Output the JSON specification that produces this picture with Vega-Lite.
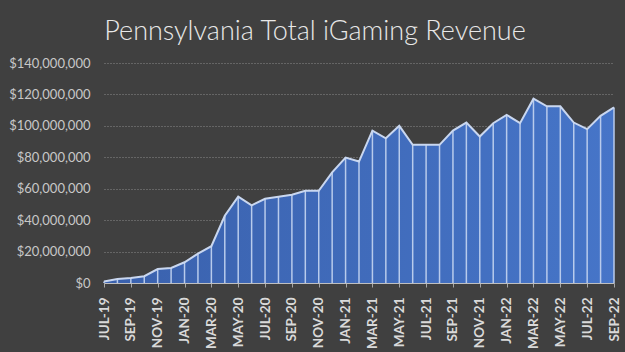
{
  "$schema": "https://vega.github.io/schema/vega-lite/v6.json",
  "width": 510,
  "height": 220,
  "autosize": {"type": "none"},
  "padding": {"left": 104, "top": 63, "right": 11, "bottom": 69},
  "background": "#404040",
  "title": {
    "text": "Pennsylvania Total iGaming Revenue",
    "font": "Lato",
    "fontWeight": 300,
    "fontSize": 27,
    "color": "#e8e8e8",
    "anchor": "middle",
    "dx": -44,
    "offset": 11
  },
  "config": {
    "view": {"stroke": null},
    "axis": {"labelFont": "Lato", "domain": false}
  },
  "data": {
    "values": [
      {"m": "JUL-19", "v": 900000},
      {"m": "AUG-19", "v": 2600000},
      {"m": "SEP-19", "v": 3200000},
      {"m": "OCT-19", "v": 4300000},
      {"m": "NOV-19", "v": 8900000},
      {"m": "DEC-19", "v": 9600000},
      {"m": "JAN-20", "v": 13200000},
      {"m": "FEB-20", "v": 18700000},
      {"m": "MAR-20", "v": 23400000},
      {"m": "APR-20", "v": 42800000},
      {"m": "MAY-20", "v": 54900000},
      {"m": "JUN-20", "v": 49400000},
      {"m": "JUL-20", "v": 53600000},
      {"m": "AUG-20", "v": 54900000},
      {"m": "SEP-20", "v": 56200000},
      {"m": "OCT-20", "v": 58700000},
      {"m": "NOV-20", "v": 58700000},
      {"m": "DEC-20", "v": 70400000},
      {"m": "JAN-21", "v": 79800000},
      {"m": "FEB-21", "v": 77300000},
      {"m": "MAR-21", "v": 97000000},
      {"m": "APR-21", "v": 92100000},
      {"m": "MAY-21", "v": 100000000},
      {"m": "JUN-21", "v": 87900000},
      {"m": "JUL-21", "v": 87900000},
      {"m": "AUG-21", "v": 87900000},
      {"m": "SEP-21", "v": 97000000},
      {"m": "OCT-21", "v": 102100000},
      {"m": "NOV-21", "v": 93200000},
      {"m": "DEC-21", "v": 101700000},
      {"m": "JAN-22", "v": 107000000},
      {"m": "FEB-22", "v": 101700000},
      {"m": "MAR-22", "v": 117300000},
      {"m": "APR-22", "v": 112400000},
      {"m": "MAY-22", "v": 112400000},
      {"m": "JUN-22", "v": 102100000},
      {"m": "JUL-22", "v": 97900000},
      {"m": "AUG-22", "v": 106400000},
      {"m": "SEP-22", "v": 111700000}
    ]
  },
  "encoding": {
    "x": {
      "field": "m",
      "type": "ordinal",
      "sort": null,
      "scale": {"type": "point", "padding": 0},
      "axis": {
        "title": null,
        "values": ["JUL-19","SEP-19","NOV-19","JAN-20","MAR-20","MAY-20","JUL-20","SEP-20","NOV-20","JAN-21","MAR-21","MAY-21","JUL-21","SEP-21","NOV-21","JAN-22","MAR-22","MAY-22","JUL-22","SEP-22"],
        "labelAngle": -90,
        "labelFontWeight": "bold",
        "labelFontSize": 13.5,
        "labelColor": "#d9d9d9",
        "labelPadding": 10,
        "ticks": true,
        "tickSize": 4,
        "tickColor": "#a6a6a6",
        "domain": true,
        "domainColor": "#bfbfbf",
        "grid": false
      }
    },
    "y": {
      "field": "v",
      "type": "quantitative",
      "scale": {"domain": [0, 140000000], "nice": false},
      "axis": {
        "title": null,
        "values": [0, 20000000, 40000000, 60000000, 80000000, 100000000, 120000000, 140000000],
        "format": "$,.0f",
        "labelFontSize": 13,
        "labelColor": "#c8c8c8",
        "ticks": false,
        "labelPadding": 14,
        "grid": true,
        "gridColor": "#8a8a8a",
        "gridDash": [1, 2],
        "gridWidth": 1
      }
    }
  },
  "layer": [
    {
      "mark": {
        "type": "area",
        "color": {
          "gradient": "linear",
          "x1": 0, "y1": 0, "x2": 1, "y2": 0,
          "stops": [
            {"offset": 0, "color": "#3a61ad"},
            {"offset": 1, "color": "#4675c8"}
          ]
        }
      }
    },
    {
      "mark": {"type": "rule", "color": "#b8cbec", "strokeWidth": 1.5},
      "encoding": {"y2": {"datum": 0}}
    },
    {
      "mark": {"type": "line", "color": "#c9d7f0", "strokeWidth": 2}
    }
  ]
}
